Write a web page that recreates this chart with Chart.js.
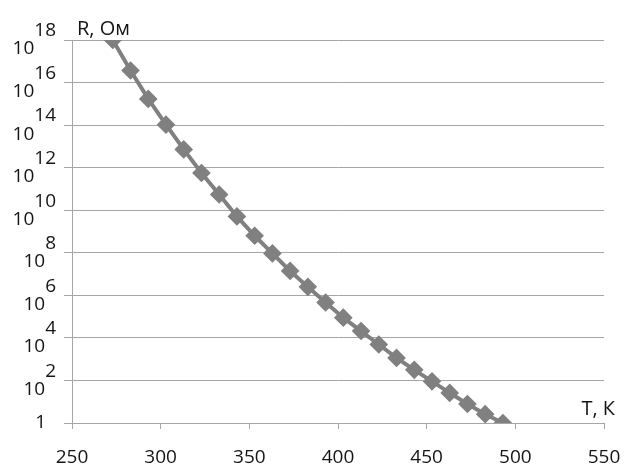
<!DOCTYPE html>
<html>
<head>
<meta charset="utf-8">
<script src="https://cdn.jsdelivr.net/npm/chart.js@4/dist/chart.umd.min.js"></script>
<style>
  html, body { margin: 0; padding: 0; background: #fff; }
  #wrap { width: 624px; height: 469px; }
</style>
</head>
<body>
<div id="wrap"><canvas id="c" width="624" height="469"></canvas></div>
<script>
// Temperature, K
const temperatures = [273, 283, 293, 303, 313, 323, 333, 343, 353, 363, 373, 383,
                      393, 403, 413, 423, 433, 443, 453, 463, 473, 483, 493];
// Resistance, Ohm
const resistances = [1e18, 3.7e16, 1.7e15, 1.05e14, 7.2e12, 5.6e11, 5.5e10, 5.1e9,
                     6.3e8, 9.3e7, 1.4e7, 2.5e6, 4.6e5, 8.9e4, 2.1e4, 4.9e3,
                     1150, 316, 91, 26, 7.8, 2.6, 1.0];
// Y tick values and their exponent labels
const yTickValues = [1, 1e2, 1e4, 1e6, 1e8, 1e10, 1e12, 1e14, 1e16, 1e18];
const yTickExponents = ['', '2', '4', '6', '8', '10', '12', '14', '16', '18'];
const xTickValues = [250, 300, 350, 400, 450, 500, 550];
const yAxisTitle = 'R, Ом';
const xAxisTitle = 'T, К';

const FONT = '"Open Sans", "DejaVu Sans", sans-serif';
const GRID = '#a6a6a6';
const SERIES = '#808080';
const TEXT = '#151515';

const axisTitles = {
  id: 'axisTitles',
  afterDraw(chart) {
    const ctx = chart.ctx;
    const x = chart.scales.x, y = chart.scales.y;
    ctx.save();
    ctx.fillStyle = TEXT;
    ctx.font = '20px ' + FONT;
    ctx.textBaseline = 'alphabetic';
    ctx.textAlign = 'left';
    ctx.fillText(yAxisTitle, x.left + 5, y.top - 5);
    ctx.textAlign = 'right';
    ctx.fillText(xAxisTitle, x.right + 11, y.bottom - 8);
    ctx.restore();
  }
};

new Chart(document.getElementById('c'), {
  type: 'line',
  data: {
    datasets: [{
      data: temperatures.map((t, i) => ({ x: t, y: resistances[i] })),
      borderColor: SERIES,
      backgroundColor: SERIES,
      borderWidth: 4,
      pointStyle: 'rectRot',
      pointRadius: 6.5,
      pointHoverRadius: 6.5,
      pointBackgroundColor: SERIES,
      pointBorderColor: SERIES,
      tension: 0
    }]
  },
  options: {
    responsive: false,
    animation: false,
    layout: { padding: { top: 40, right: 20, bottom: 0, left: 0 } },
    plugins: { legend: { display: false }, tooltip: { enabled: false }, title: { display: false } },
    scales: {
      x: {
        type: 'linear',
        min: 250, max: 550,
        afterBuildTicks(s) { s.ticks = xTickValues.map(v => ({ value: v })); },
        afterFit(s) { s.height = 46; s.paddingRight = 0; s.paddingLeft = 0; },
        grid: { drawOnChartArea: false, drawTicks: true, tickLength: 6, color: GRID, lineWidth: 1 },
        border: { display: true, color: GRID, width: 1 },
        ticks: {
          color: TEXT,
          font: { family: FONT, size: 19 },
          padding: 17,
          maxRotation: 0,
          callback: v => String(v)
        }
      },
      y: {
        type: 'logarithmic',
        min: 1, max: 1e18,
        afterBuildTicks(s) { s.ticks = yTickValues.map(v => ({ value: v })); },
        afterFit(s) { s.width = 72; },
        grid: { drawOnChartArea: true, drawTicks: true, tickLength: 8, color: GRID, lineWidth: 1 },
        border: { display: true, color: GRID, width: 1 },
        ticks: {
          color: TEXT,
          font: { family: FONT, size: 19, lineHeight: 0.95 },
          padding: 8,
          callback: (v, i) => {
            const e = yTickExponents[i];
            if (!e) return '1  ';
            return [e, '10' + '\u2007'.repeat(e.length === 1 ? 1 : 2)];
          }
        }
      }
    }
  },
  plugins: [axisTitles]
});
</script>
</body>
</html>
